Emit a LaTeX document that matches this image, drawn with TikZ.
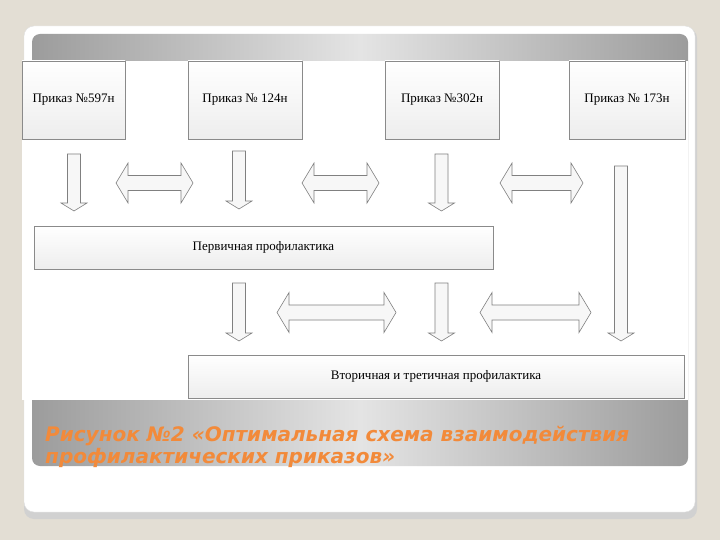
\documentclass[tikz,border=0pt]{standalone}
\usepackage{fontspec}
\setmainfont{Liberation Serif}
\newfontfamily\titlefont{DejaVu Sans}
\usetikzlibrary{shadows}
\definecolor{bg}{RGB}{227,222,212}
\definecolor{titleorange}{RGB}{242,138,58}
\definecolor{bandedge}{RGB}{156,156,156}
\definecolor{bandmid}{RGB}{228,228,228}
\definecolor{boxline}{RGB}{138,138,138}
\definecolor{arrowline}{RGB}{128,128,128}
\newcommand\DownBlock[3]{%
  \draw[blockarrow] (#1-6.5,#2) -- (#1+6.5,#2) -- (#1+6.5,#3-8) -- (#1+13,#3-8) -- (#1,#3)
    -- (#1-13,#3-8) -- (#1-6.5,#3-8) -- cycle;}
\newcommand\TwoWayBlock[3]{%
  \draw[blockarrow] (#1,#3) -- (#1+12,#3-20) -- (#1+12,#3-7.5) -- (#2-12,#3-7.5) -- (#2-12,#3-20)
    -- (#2,#3) -- (#2-12,#3+20) -- (#2-12,#3+7.5) -- (#1+12,#3+7.5) -- (#1+12,#3+20) -- cycle;}
\begin{document}
\begin{tikzpicture}[x=1pt,y=-1pt,
  orderbox/.style={draw=boxline, line width=0.7pt, top color=white, bottom color=black!7,
    font=\fontsize{13}{15}\selectfont, inner sep=0pt},
  blockarrow/.style={draw=arrowline, line width=0.6pt, fill=black!3, line join=miter}]
% background
\fill[bg] (0,0) rectangle (720,540);
\useasboundingbox (0,0) rectangle (720,540);
% card with shadow
\fill[black!30, rounded corners=10pt] (25,30) rectangle (696,517);
\fill[black!18, rounded corners=10pt] (24,28) rectangle (697,519);
\filldraw[fill=white, draw=black!12, rounded corners=10pt] (24,26) rectangle (695,512);
% gradient band
\shade[rounded corners=8pt, left color=bandedge, right color=bandedge, middle color=bandmid]
  (32,34) rectangle (688,466);
% diagram image area
\fill[white] (22,61) rectangle (688,400);
% order boxes
\node[orderbox, minimum width=103pt, minimum height=78pt] (b1) at (73.5,100) {Приказ №597н};
\node[orderbox, minimum width=114pt, minimum height=78pt] (b2) at (245,100) {Приказ № 124н};
\node[orderbox, minimum width=114pt, minimum height=78pt] (b3) at (442,100) {Приказ №302н};
\node[orderbox, minimum width=116pt, minimum height=78pt] (b4) at (627,100) {Приказ № 173н};
\node[orderbox, minimum width=459pt, minimum height=43pt] (prim) at (263.5,247.5) {Первичная профилактика};
\node[orderbox, minimum width=496pt, minimum height=43pt] (sec) at (436,376.5) {Вторичная и третичная профилактика};
% down block arrows
\DownBlock{74}{154}{211}
\DownBlock{239}{151}{209}
\DownBlock{441.5}{154}{211}
\DownBlock{621}{166}{341}
\DownBlock{239}{283}{341}
\DownBlock{441.5}{283}{341}
% double block arrows
\TwoWayBlock{116}{193}{183}
\TwoWayBlock{302}{379}{183}
\TwoWayBlock{500}{583}{183}
\TwoWayBlock{277}{396}{312.5}
\TwoWayBlock{480}{591}{312.5}
% title
\node[anchor=base west, inner sep=0pt, align=left, text=titleorange,
  font=\titlefont\bfseries\itshape\fontsize{20}{22}\selectfont] (title) at (45,463)
  {Рисунок №2 «Оптимальная схема взаимодействия\\профилактических приказов»};
\end{tikzpicture}
\end{document}
